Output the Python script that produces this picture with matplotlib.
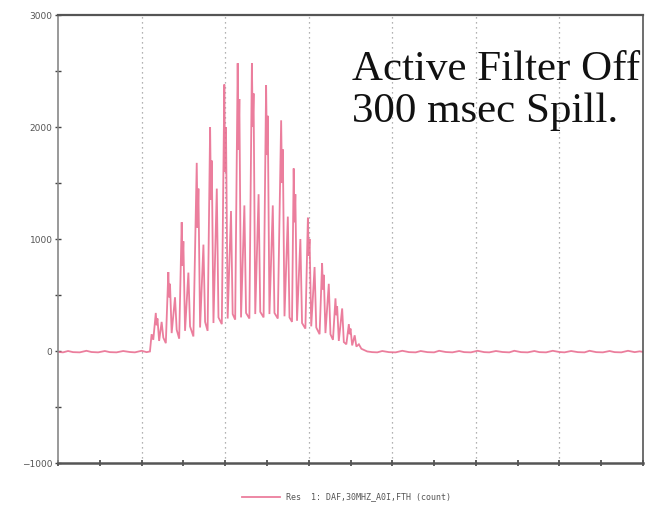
import matplotlib
matplotlib.use("Agg")
import matplotlib.pyplot as plt
from matplotlib.ticker import MultipleLocator

# --- data: trace vertices (time units, counts) ---
t_pre = [0, 6, 12, 18, 26, 34, 40, 48, 56, 62, 70, 78, 86, 92, 100, 106, 110]
c_pre = [-8, -12, 0, -10, -12, 2, -9, -12, 0, -10, -12, 0, -9, -12, 2, -10, -4]

t_spill = [112, 114, 117, 118, 119, 121, 124, 126, 129,
           132, 133, 134, 136, 140, 142, 145,
           148, 149, 150, 152, 156, 158, 162,
           166, 167, 168, 170, 174, 176, 179,
           182, 183, 184, 186, 190, 192, 196,
           199, 200, 201, 203, 207, 209, 212,
           215, 216, 217, 219, 223, 225, 229,
           232, 233, 234, 236, 240, 242, 246,
           249, 250, 251, 253, 257, 259, 263,
           267, 268, 269, 271, 275, 277, 280,
           282, 283, 284, 286, 290, 292, 296,
           299, 300, 301, 303, 307, 309, 313,
           316, 317, 318, 320, 324, 326, 329,
           332, 333, 334, 336, 340, 342, 345,
           348, 349, 350, 352, 355, 357, 360, 363, 366]
c_spill = [150, 100, 340, 230, 290, 90, 260, 120, 70,
           705, 480, 600, 160, 480, 190, 110,
           1150, 760, 980, 180, 700, 220, 130,
           1680, 1100, 1450, 210, 950, 260, 180,
           2000, 1350, 1700, 250, 1450, 300, 240,
           2380, 1600, 2000, 290, 1250, 330, 280,
           2570, 1800, 2250, 300, 1300, 340, 290,
           2570, 2000, 2300, 330, 1400, 350, 300,
           2375, 1750, 2100, 330, 1300, 340, 290,
           2060, 1500, 1800, 310, 1200, 300, 260,
           1630, 1150, 1400, 270, 1000, 250, 200,
           1190, 850, 1000, 220, 750, 210, 150,
           785, 550, 680, 160, 600, 150, 100,
           470, 320, 400, 90, 380, 80, 60,
           240, 150, 200, 50, 140, 40, 60, 20, 10]

t_post = [370, 376, 382, 388, 396, 404, 412, 420, 428, 434, 442, 450, 456,
          464, 472, 480, 486, 494, 502, 510, 516, 524, 532, 540, 546,
          554, 562, 570, 576, 584, 592, 600, 606, 614, 622, 630, 636,
          644, 652, 660, 666, 674, 682, 690, 696, 700]
c_post = [-4, -10, -12, 0, -10, -12, 2, -10, -12, 0, -10, -12, 2,
          -9, -12, 0, -10, -12, 2, -10, -12, 0, -9, -12, 2,
          -10, -12, 0, -10, -12, 2, -9, -12, 0, -10, -12, 2,
          -10, -12, 0, -10, -12, 2, -10, -3, -8]

y_ticks = [-1000, 0, 1000, 2000, 3000]
legend_label = "Res  1: DAF,30MHZ_A0I,FTH (count)"
note = "Active Filter Off\n300 msec Spill."

fig = plt.figure(figsize=(6.54, 5.2), dpi=100)
ax = fig.add_axes([0.0887, 0.1096, 0.8945, 0.8615])

t_all = t_pre + t_spill + t_post
c_all = c_pre + c_spill + c_post
line, = ax.plot(t_all, c_all, color="#e8688c", lw=1.3, alpha=0.85,
                solid_joinstyle="miter")

ax.set_xlim(0, 700)
ax.set_ylim(-1000, 3000)
ax.xaxis.set_major_locator(MultipleLocator(100))
ax.xaxis.set_minor_locator(MultipleLocator(50))
ax.set_yticks(y_ticks)
ax.yaxis.set_minor_locator(MultipleLocator(500))
ax.set_xticklabels([])
ax.tick_params(axis="x", which="both", direction="inout", length=5,
               width=1.2, color="#444")
ax.tick_params(axis="y", which="both", direction="inout", length=4,
               width=1.0, color="#444", labelsize=6.5, labelcolor="#555",
               pad=2)
for sp in ax.spines.values():
    sp.set_color("#555")
    sp.set_linewidth(1.2)
ax.spines["left"].set_color("#888")
ax.spines["bottom"].set_linewidth(1.8)
ax.spines["top"].set_linewidth(1.6)

for xv in range(100, 700, 100):
    ax.axvline(xv, color="#999", lw=0.9, ls=(0, (1, 3)), zorder=0)

ax.text(0.503, 0.92, note, transform=ax.transAxes, ha="left", va="top",
        fontsize=31, family="Liberation Serif", color="#111", linespacing=1.12,
        clip_on=False)

leg = fig.legend([line], [legend_label], loc="center",
                 bbox_to_anchor=(0.53, 0.044), frameon=False,
                 handlelength=4.5, prop={"family": "DejaVu Sans Mono", "size": 6})
for txt in leg.get_texts():
    txt.set_color("#555")

fig.savefig("out.png", dpi=100)
